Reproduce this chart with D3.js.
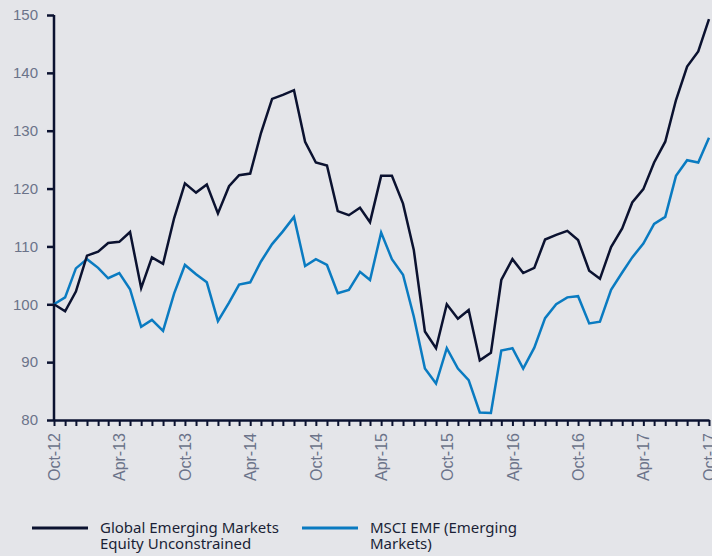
<!DOCTYPE html>
<html>
<head>
<meta charset="utf-8">
<script src="https://cdn.jsdelivr.net/npm/d3@7"></script>
<style>
  body { margin: 0; background: #e4e5e9; }
  svg { display: block; font-family: "Noto Sans", sans-serif; }
  .axis path, .axis line { stroke: #0b1230; }
  .axis text { fill: #6b7389; font-size: 15px; }
</style>
</head>
<body>
<svg id="chart"></svg>
<script>
// monthly, Oct-12 .. Oct-17
const months = d3.range(61).map(i => new Date(2012, 9 + i, 1));

const globalEM = [100, 98.8, 102.2, 108.4, 109.1, 110.6, 110.8, 112.5, 102.8, 108.1,
  107.0, 114.9, 120.9, 119.3, 120.7, 115.7, 120.4, 122.3, 122.6, 129.6,
  135.5, 136.2, 137.0, 128.1, 124.5, 124.0, 116.1, 115.4, 116.7, 114.2,
  122.2, 122.2, 117.4, 109.4, 95.3, 92.4, 100.0, 97.5, 99.0, 90.3,
  91.6, 104.2, 107.8, 105.4, 106.3, 111.2, 112.0, 112.7, 111.1, 105.8,
  104.4, 109.9, 113.1, 117.6, 119.9, 124.5, 128.1, 135.3, 141.1, 143.7,
  149.3];

const msciEMF = [100, 101.2, 106.2, 107.8, 106.3, 104.5, 105.4, 102.6, 96.1, 97.3,
  95.4, 101.9, 106.8, 105.2, 103.8, 97.1, 100.3, 103.4, 103.8, 107.4,
  110.4, 112.6, 115.1, 106.6, 107.8, 106.8, 101.9, 102.5, 105.6, 104.2,
  112.4, 107.8, 105.1, 97.9, 88.9, 86.3, 92.4, 88.9, 86.9, 81.3,
  81.2, 92.0, 92.4, 88.9, 92.5, 97.6, 100.0, 101.2, 101.4, 96.7,
  97.0, 102.5, 105.5, 108.1, 110.5, 113.9, 115.1, 122.2, 124.9, 124.5,
  128.8];

const yTicks = [80, 90, 100, 110, 120, 130, 140, 150];
const seriesNames = [["Global Emerging Markets", "Equity Unconstrained"], ["MSCI EMF (Emerging", "Markets)"]];
const seriesColors = ["#0b1230", "#0a7bc1"];

const width = 712, height = 556;
const margin = {top: 15, right: 3, bottom: 136, left: 54};
const w = width - margin.left - margin.right;
const h = height - margin.top - margin.bottom;

const svg = d3.select("#chart").attr("width", width).attr("height", height);
const g = svg.append("g").attr("transform", `translate(${margin.left},${margin.top})`);

const x = d3.scaleTime().domain(d3.extent(months)).range([0, w]);
const y = d3.scaleLinear().domain([80, 150]).range([h, 0]);

// y axis
const yAxisG = g.append("g").attr("class", "axis")
  .call(d3.axisLeft(y).tickValues(yTicks).tickSize(7).tickPadding(9));
yAxisG.select(".domain").attr("stroke-width", 2.5).attr("d", `M0,${h}V0`);
yAxisG.selectAll(".tick line").attr("stroke-width", 2.5);

// x axis: a tick every month, a label every six months
const fmt = d3.timeFormat("%b-%y");
const xAxisG = g.append("g").attr("class", "axis")
  .attr("transform", `translate(0,${h})`)
  .call(d3.axisBottom(x).tickValues(months).tickSize(6).tickSizeOuter(0)
    .tickFormat((d, i) => i % 6 === 0 ? fmt(d) : ""));
xAxisG.select(".domain").attr("stroke-width", 2.5);
xAxisG.selectAll(".tick line").attr("stroke-width", 2);
xAxisG.selectAll(".tick text")
  .style("font-size", "16px")
  .attr("transform", "rotate(-90)")
  .attr("text-anchor", "end")
  .attr("x", -13)
  .attr("y", 0)
  .attr("dy", "0.35em");

// lines
const line = d3.line().x((d, i) => x(months[i])).y(d => y(d));
[msciEMF, globalEM].forEach((s, k) => {
  g.append("path")
    .datum(s)
    .attr("fill", "none")
    .attr("stroke", seriesColors[1 - k])
    .attr("stroke-width", 2.5)
    .attr("stroke-linejoin", "miter")
    .attr("d", line);
});

// legend
const legendX = [32, 302];
seriesNames.forEach((lines, k) => {
  const lg = svg.append("g").attr("transform", `translate(${legendX[k]},528)`);
  lg.append("line").attr("x1", 0).attr("x2", 56).attr("y1", 0).attr("y2", 0)
    .attr("stroke", seriesColors[k]).attr("stroke-width", 3);
  const t = lg.append("text").attr("x", 68).attr("y", 5)
    .attr("fill", "#1a1f36").style("font-size", "15px");
  lines.forEach((s, j) => {
    t.append("tspan").attr("x", 68).attr("dy", j === 0 ? 0 : 15.5).text(s);
  });
});
</script>
</body>
</html>
